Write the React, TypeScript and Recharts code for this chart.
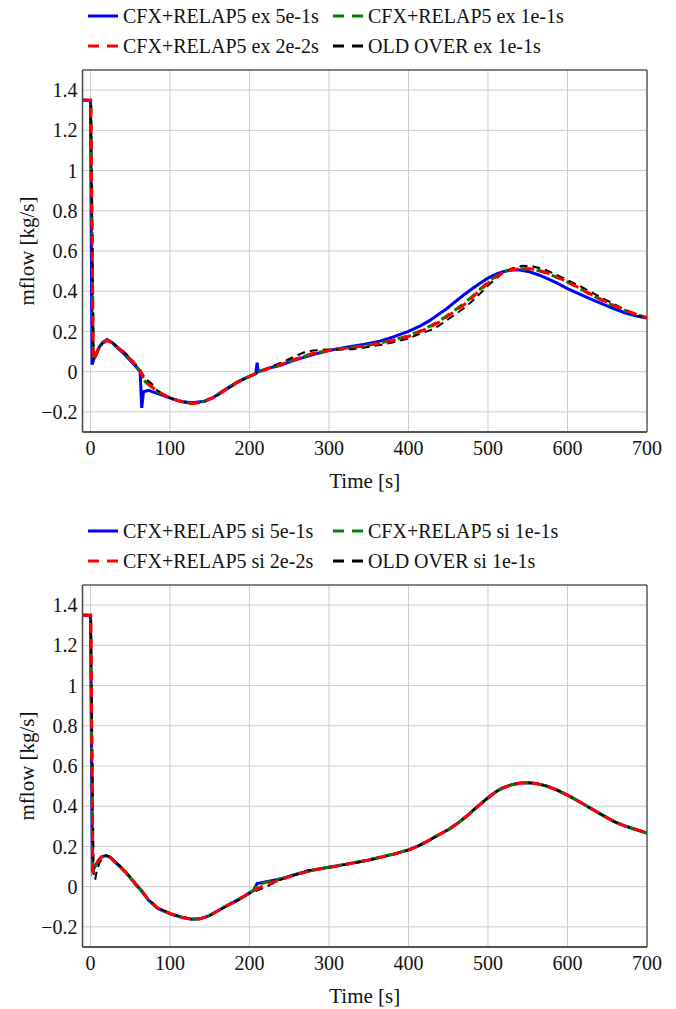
import { LineChart, Line, XAxis, YAxis, CartesianGrid, ReferenceArea, Legend } from 'recharts';

type Pt = [number, number];

const X_TICKS = [0, 100, 200, 300, 400, 500, 600, 700];
const Y_TICKS = [-0.2, 0, 0.2, 0.4, 0.6, 0.8, 1, 1.2, 1.4];
const X_DOMAIN: [number, number] = [-10, 700];
const Y_DOMAIN: [number, number] = [-0.3, 1.5];

// top panel: explicit coupling (ex), [time s, mflow kg/s]
const exBlue: Pt[] = [
  [-10, 1.35], [0, 1.35], [2, 0.035], [4, 0.06], [6.3, 0.081], [10, 0.115], [15, 0.145], [20.8, 0.16],
  [27, 0.145], [35, 0.114], [42, 0.09], [48, 0.064], [55, 0.035], [62.5, 0.0], [64.5, -0.18], [66.7, -0.1],
  [73, -0.093], [85, -0.109], [102, -0.134], [115, -0.148], [127, -0.155], [144, -0.147], [155, -0.127],
  [165, -0.1], [175, -0.075], [185, -0.05], [197, -0.028], [208, -0.01], [209.6, 0.045], [211, 0.0],
  [215, 0.005], [225, 0.018], [238, 0.03], [255, 0.055], [280, 0.085], [300, 0.105], [322, 0.122],
  [345, 0.137], [364, 0.152], [380, 0.172], [400, 0.2], [415, 0.228], [427, 0.255], [438, 0.285],
  [448, 0.313], [458, 0.345], [469, 0.38], [480, 0.412], [490, 0.44], [500, 0.465], [510, 0.485],
  [520, 0.498], [531, 0.507], [540, 0.506], [552, 0.497], [563, 0.482], [574, 0.464], [587, 0.44],
  [600, 0.413], [614, 0.388], [628, 0.363], [643, 0.338], [658, 0.313], [672, 0.293], [687, 0.276], [700, 0.267],
];
const exGreen: Pt[] = [
  [-10, 1.35], [0.5, 1.35], [3.5, 0.06], [6, 0.077], [10, 0.11], [15, 0.141], [21, 0.156], [27, 0.146],
  [35, 0.118], [42, 0.096], [48, 0.071], [55, 0.041], [62, 0.006], [64, -0.01], [69, -0.05], [77, -0.077],
  [83, -0.097], [90, -0.111], [102, -0.134], [115, -0.15], [127, -0.158], [140, -0.151], [155, -0.127],
  [165, -0.102], [175, -0.077], [185, -0.052], [197, -0.029], [210, -0.004], [225, 0.019], [238, 0.034],
  [255, 0.059], [280, 0.091], [300, 0.106], [322, 0.118], [345, 0.13], [364, 0.142], [380, 0.157],
  [400, 0.178], [415, 0.203], [427, 0.226], [438, 0.25], [448, 0.277], [458, 0.305], [469, 0.336],
  [480, 0.373], [490, 0.41], [500, 0.444], [510, 0.475], [520, 0.497], [531, 0.509], [542, 0.512],
  [553, 0.511], [563, 0.503], [574, 0.49], [587, 0.468], [600, 0.445], [614, 0.416], [628, 0.386],
  [643, 0.356], [658, 0.328], [672, 0.305], [687, 0.284], [700, 0.268],
];
const exRed: Pt[] = [
  [-10, 1.35], [0.5, 1.35], [3.5, 0.058], [6, 0.075], [10, 0.11], [15, 0.14], [21, 0.155], [27, 0.145],
  [35, 0.118], [42, 0.095], [48, 0.07], [55, 0.04], [62, 0.005], [69, -0.048], [77, -0.075], [83, -0.095],
  [90, -0.11], [102, -0.133], [115, -0.15], [127, -0.159], [140, -0.152], [155, -0.128], [165, -0.103],
  [175, -0.078], [185, -0.053], [197, -0.03], [210, -0.005], [225, 0.018], [238, 0.033], [255, 0.058],
  [280, 0.09], [300, 0.105], [322, 0.117], [345, 0.128], [364, 0.142], [380, 0.155], [400, 0.175],
  [415, 0.2], [427, 0.222], [438, 0.245], [448, 0.272], [458, 0.3], [469, 0.33], [480, 0.368],
  [490, 0.405], [500, 0.44], [510, 0.472], [520, 0.495], [531, 0.508], [542, 0.512], [553, 0.512],
  [563, 0.505], [574, 0.492], [587, 0.47], [600, 0.447], [614, 0.418], [628, 0.388], [643, 0.358],
  [658, 0.33], [672, 0.307], [687, 0.285], [700, 0.268],
];
const exBlack: Pt[] = [
  [-10, 1.35], [0.5, 1.35], [4, 0.055], [6, 0.07], [10, 0.108], [15, 0.14], [21, 0.155], [27, 0.148],
  [35, 0.12], [42, 0.1], [48, 0.075], [55, 0.045], [62, 0.012], [69, -0.035], [77, -0.06], [83, -0.09],
  [90, -0.108], [102, -0.133], [115, -0.15], [127, -0.158], [140, -0.152], [155, -0.13], [165, -0.105],
  [175, -0.08], [185, -0.055], [197, -0.03], [210, -0.005], [225, 0.02], [240, 0.045], [255, 0.072],
  [268, 0.095], [280, 0.105], [290, 0.108], [301, 0.11], [315, 0.11], [330, 0.112], [345, 0.12],
  [364, 0.133], [380, 0.145], [400, 0.165], [415, 0.19], [427, 0.205], [438, 0.228], [448, 0.255],
  [458, 0.283], [469, 0.313], [480, 0.35], [490, 0.388], [500, 0.428], [510, 0.463], [520, 0.495],
  [531, 0.515], [544, 0.527], [557, 0.523], [570, 0.51], [587, 0.48], [600, 0.455], [616, 0.425],
  [630, 0.395], [645, 0.363], [660, 0.333], [674, 0.305], [691, 0.275], [700, 0.265],
];

// bottom panel: semi-implicit coupling (si)
const siBlue: Pt[] = [
  [-10, 1.35], [0, 1.35], [2.5, 0.075], [6.3, 0.106], [10, 0.13], [14, 0.148], [19.6, 0.155], [25, 0.145],
  [31, 0.122], [37, 0.1], [43.75, 0.073], [50, 0.045], [56, 0.015], [63, -0.015], [73, -0.068], [85, -0.109],
  [102, -0.137], [115, -0.152], [127, -0.162], [137, -0.16], [148, -0.147], [158, -0.125], [169, -0.1],
  [180, -0.077], [190, -0.056], [200, -0.031], [205, -0.02], [209.6, 0.015], [223, 0.026], [240, 0.04],
  [263, 0.067], [280, 0.083], [300, 0.097], [322, 0.112], [350, 0.133], [381, 0.162], [400, 0.183],
  [414, 0.205], [427, 0.233], [438, 0.258], [450, 0.283], [462, 0.315], [473, 0.35], [486, 0.395],
  [500, 0.442], [510, 0.472], [519, 0.492], [530, 0.507], [540, 0.515], [551, 0.517], [562, 0.512],
  [574, 0.5], [587, 0.48], [600, 0.455], [614, 0.425], [628, 0.392], [643, 0.358], [658, 0.325],
  [670, 0.305], [683, 0.288], [700, 0.267],
];
const siGreen: Pt[] = [
  [-10, 1.35], [0.3, 1.35], [2.8, 0.078], [6.3, 0.105], [10, 0.13], [14, 0.148], [19.6, 0.155], [25, 0.145],
  [31, 0.123], [37, 0.101], [43.75, 0.074], [50, 0.046], [56, 0.016], [63, -0.014], [73, -0.067], [85, -0.108],
  [102, -0.137], [115, -0.152], [127, -0.161], [137, -0.16], [148, -0.147], [158, -0.125], [169, -0.1],
  [180, -0.077], [190, -0.056], [200, -0.031], [205, -0.018], [209, 0.01], [223, 0.024], [240, 0.039],
  [263, 0.066], [280, 0.083], [300, 0.097], [322, 0.112], [350, 0.133], [381, 0.162], [400, 0.183],
  [414, 0.205], [427, 0.233], [438, 0.258], [450, 0.283], [462, 0.315], [473, 0.35], [486, 0.395],
  [500, 0.442], [510, 0.472], [519, 0.492], [530, 0.507], [540, 0.515], [551, 0.517], [562, 0.512],
  [574, 0.5], [587, 0.48], [600, 0.455], [614, 0.425], [628, 0.392], [643, 0.358], [658, 0.325],
  [670, 0.305], [683, 0.288], [700, 0.267],
];
const siRed: Pt[] = [
  [-10, 1.35], [0.5, 1.35], [3, 0.08], [6.3, 0.104], [10, 0.129], [14, 0.147], [19.6, 0.155], [25, 0.146],
  [31, 0.124], [37, 0.102], [43.75, 0.075], [50, 0.047], [56, 0.017], [63, -0.013], [73, -0.066], [85, -0.107],
  [102, -0.136], [115, -0.152], [127, -0.162], [137, -0.161], [148, -0.148], [158, -0.126], [169, -0.101],
  [180, -0.078], [190, -0.055], [200, -0.031], [210, -0.01], [223, 0.015], [240, 0.035], [263, 0.065],
  [280, 0.082], [300, 0.096], [322, 0.111], [350, 0.132], [381, 0.161], [400, 0.182], [414, 0.204],
  [427, 0.232], [438, 0.257], [450, 0.283], [462, 0.315], [473, 0.35], [486, 0.395], [500, 0.441],
  [510, 0.471], [519, 0.491], [530, 0.506], [540, 0.514], [551, 0.517], [562, 0.512], [574, 0.5],
  [587, 0.48], [600, 0.455], [614, 0.425], [628, 0.392], [643, 0.358], [658, 0.325], [670, 0.305],
  [683, 0.288], [700, 0.267],
];
const siBlack: Pt[] = [
  [-10, 1.35], [0.5, 1.35], [4, 0.07], [6, 0.035], [8, 0.08], [12, 0.125], [20, 0.155], [25, 0.147],
  [31, 0.126], [37, 0.104], [43.75, 0.078], [50, 0.05], [56, 0.02], [63, -0.01], [73, -0.064], [85, -0.106],
  [102, -0.136], [115, -0.151], [127, -0.161], [137, -0.16], [148, -0.148], [158, -0.127], [169, -0.102],
  [180, -0.08], [190, -0.058], [200, -0.035], [210, -0.018], [223, 0.003], [235, 0.028], [250, 0.05],
  [263, 0.065], [272, 0.08], [285, 0.087], [300, 0.095], [322, 0.11], [350, 0.131], [381, 0.16],
  [400, 0.182], [414, 0.205], [427, 0.233], [438, 0.258], [450, 0.285], [462, 0.317], [473, 0.352],
  [486, 0.397], [500, 0.443], [510, 0.472], [519, 0.492], [530, 0.507], [540, 0.515], [551, 0.517],
  [562, 0.512], [574, 0.5], [587, 0.48], [600, 0.455], [614, 0.425], [628, 0.392], [643, 0.358],
  [658, 0.325], [670, 0.305], [683, 0.288], [700, 0.267],
];

const FONT = '"Liberation Serif", "Times New Roman", serif';
const TEXT = '#111';

const STYLES = {
  blue: { color: '#0000ff', width: 3, dash: undefined as string | undefined, offset: 0 },
  green: { color: '#008000', width: 3, dash: '10 6', offset: 4 },
  red: { color: '#ff0000', width: 3, dash: '10 6', offset: 0 },
  black: { color: '#000000', width: 2, dash: '8 5', offset: 0 },
};
type Key = keyof typeof STYLES;

const toRows = (pts: Pt[]) => pts.map(([t, v]) => ({ t, v }));

const fmtY = (v: number) => (v === 0 ? '0' : v < 0 ? '\u2212' + Math.abs(v) : String(v));

function LegendSample({ k }: { k: Key }) {
  const s = STYLES[k];
  return (
    <svg width={30} height={10} style={{ display: 'block' }}>
      {s.dash ? (
        <>
          <line x1={0} y1={5} x2={11} y2={5} stroke={s.color} strokeWidth={3} />
          <line x1={19} y1={5} x2={30} y2={5} stroke={s.color} strokeWidth={3} />
        </>
      ) : (
        <line x1={0} y1={5} x2={30} y2={5} stroke={s.color} strokeWidth={3} />
      )}
    </svg>
  );
}

function PanelLegend({ mode }: { mode: string }) {
  const items: { k: Key; name: string; left: number; top: number }[] = [
    { k: 'blue', name: `CFX+RELAP5 ${mode} 5e-1s`, left: 88, top: 4 },
    { k: 'green', name: `CFX+RELAP5 ${mode} 1e-1s`, left: 333, top: 4 },
    { k: 'red', name: `CFX+RELAP5 ${mode} 2e-2s`, left: 88, top: 34 },
    { k: 'black', name: `OLD OVER ${mode} 1e-1s`, left: 333, top: 34 },
  ];
  return (
    <div style={{ position: 'relative', width: 676, height: 62 }}>
      {items.map((it) => (
        <div
          key={it.k}
          style={{
            position: 'absolute', left: it.left, top: it.top, height: 24, display: 'flex',
            alignItems: 'center', gap: 5, fontFamily: FONT, fontSize: 20, color: TEXT, whiteSpace: 'nowrap',
          }}
        >
          <LegendSample k={it.k} />
          <span>{it.name}</span>
        </div>
      ))}
    </div>
  );
}

// eslint-disable-next-line @typescript-eslint/no-explicit-any
function YLabel(props: any) {
  const vb = props.viewBox;
  const cx = vb.x + 27;
  const cy = vb.y + vb.height / 2;
  return (
    <text
      x={cx} y={cy} transform={`rotate(-90 ${cx} ${cy})`} textAnchor="middle" dominantBaseline="central"
      fontFamily={FONT} fontSize={21} fill={TEXT}
    >
      mflow [kg/s]
    </text>
  );
}

function Panel({ mode, series }: { mode: string; series: Record<Key, Pt[]> }) {
  const order: Key[] = ['blue', 'green', 'black', 'red'];
  const tick = { fontSize: 20, fill: TEXT, fontFamily: FONT };
  return (
    <LineChart width={676} height={494} margin={{ top: 70, right: 29, bottom: 0, left: 0 }}>
      <CartesianGrid stroke="#cccccc" strokeWidth={1} />
      <XAxis
        dataKey="t" type="number" domain={X_DOMAIN} ticks={X_TICKS} allowDataOverflow
        height={62} tickLine={false} tickSize={6} tickMargin={3} tick={tick}
        axisLine={{ stroke: '#444', strokeWidth: 1.5 }}
        label={{ value: 'Time [s]', position: 'center', dy: 18, fontSize: 21, fill: TEXT, fontFamily: FONT }}
      />
      <YAxis
        type="number" domain={Y_DOMAIN} ticks={Y_TICKS} allowDataOverflow width={82.5}
        tickLine={false} tickSize={3} tickMargin={2} tick={tick} tickFormatter={fmtY}
        axisLine={{ stroke: '#444', strokeWidth: 1.5 }}
        label={{ content: <YLabel /> }}
      />
      <Legend
        layout="horizontal" verticalAlign="middle" align="center"
        wrapperStyle={{ top: 0, left: 0, width: 676, height: 62 }}
        content={() => <PanelLegend mode={mode} />}
      />
      {order.map((k) => (
        <Line
          key={k}
          data={toRows(series[k])}
          dataKey="v"
          type="linear"
          stroke={STYLES[k].color}
          strokeWidth={STYLES[k].width}
          strokeDasharray={STYLES[k].dash}
          strokeDashoffset={STYLES[k].offset}
          dot={false}
          activeDot={false}
          legendType="none"
          isAnimationActive={false}
        />
      ))}
      <ReferenceArea
        x1={X_DOMAIN[0]} x2={X_DOMAIN[1]} y1={Y_DOMAIN[0]} y2={Y_DOMAIN[1]}
        fill="none" stroke="#222" strokeWidth={1} ifOverflow="visible"
      />
    </LineChart>
  );
}

export default function App() {
  return (
    <div style={{ position: 'absolute', left: 0, top: 0, width: 676, height: 1009, overflow: 'hidden', background: '#fff', fontFamily: FONT }}>
      <div style={{ position: 'absolute', left: 0, top: 0 }}>
        <Panel mode="ex" series={{ blue: exBlue, green: exGreen, red: exRed, black: exBlack }} />
      </div>
      <div style={{ position: 'absolute', left: 0, top: 515 }}>
        <Panel mode="si" series={{ blue: siBlue, green: siGreen, red: siRed, black: siBlack }} />
      </div>
    </div>
  );
}
